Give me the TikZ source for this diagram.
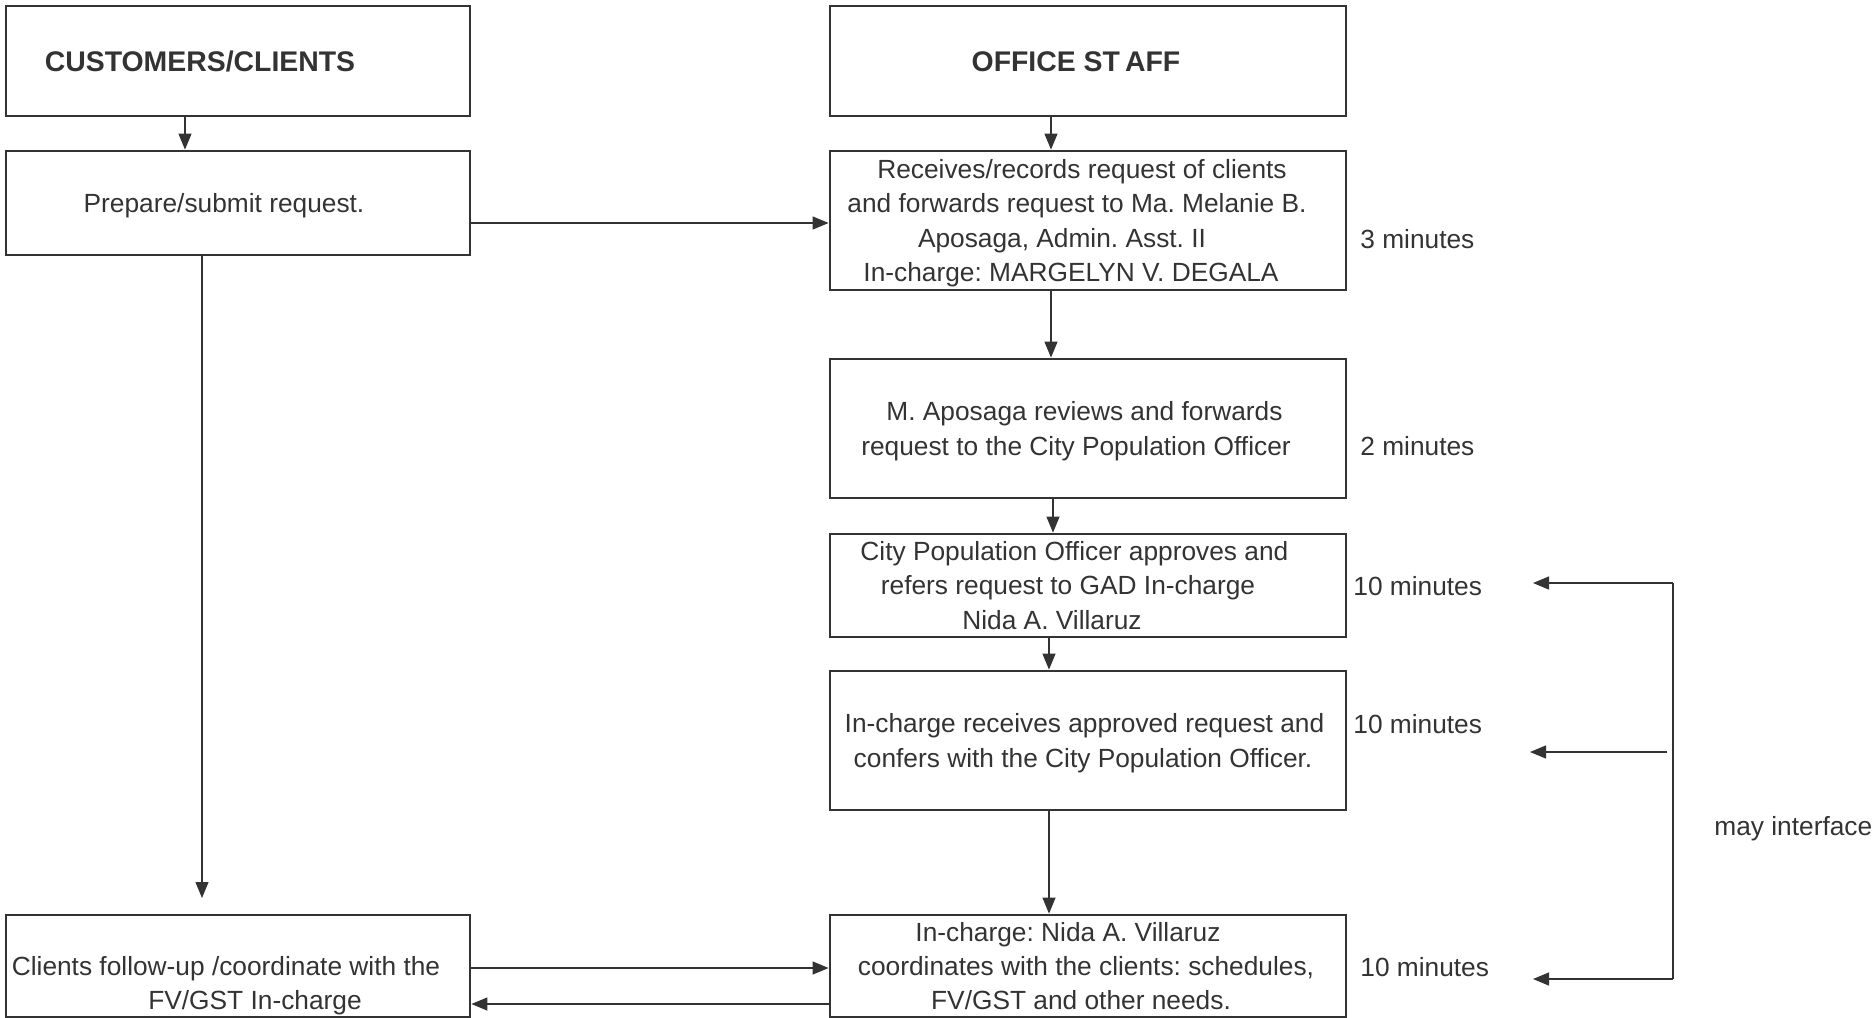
\documentclass[tikz,border=0pt]{standalone}
\usepackage{fontspec}
\setmainfont{Liberation Sans}
\usetikzlibrary{arrows.meta}
\definecolor{ink}{RGB}{51,51,51}
\newcommand\stT{\rule{0pt}{12.5pt}}
\newcommand\stB{\rule[-3.1pt]{0pt}{3.1pt}}
\newcommand\stHT{\rule{0pt}{13pt}}
\newcommand\stHB{\rule[-3pt]{0pt}{3pt}}
\newcommand\shl[1]{\rule{#1}{0pt}}
\frenchspacing
\begin{document}
\begin{tikzpicture}[x=0.5pt,y=-0.5pt,
  box/.style={draw=ink,line width=1.4pt,inner sep=0pt,align=center,text=ink,font=\fontsize{13.15}{17.15}\selectfont},
  lbox/.style={box,minimum width=232pt},
  rbox/.style={box,minimum width=258pt},
  head/.style={font=\fontsize{14.2}{17}\selectfont\bfseries},
  conn/.style={draw=ink,line width=0.6pt},
  arr/.style={conn,-{Triangle[length=8pt,width=6.5pt]}},
  lbl/.style={anchor=west,inner sep=0pt,text=ink,font=\fontsize{13.15}{17.15}\selectfont}]
\useasboundingbox (0,0) rectangle (1876,1018);

% boxes
\node[lbox,head,minimum height=55pt] (cust) at (238,61) {\stHT CUSTOMERS/CLIENTS\shl{38pt}\stHB};
\node[rbox,head,minimum height=55pt] (office) at (1088,61) {\stHT OFFICE ST\kern0.18em AFF\shl{12pt}\stHB};
\node[lbox,minimum height=52pt] (prep) at (238,203) {\stT Prepare/submit request.\shl{14pt}\stB};
\node[rbox,minimum height=69.5pt] (rec) at (1088,220.5) {\stT Receives/records request of clients\shl{6pt}\\
  and forwards request to Ma. Melanie B.\shl{11pt}\\
  Aposaga, Admin. Asst. II\shl{26pt}\\
  In-charge: MARGELYN V. DEGALA\shl{17pt}\stB};
\node[rbox,minimum height=69.5pt] (mapos) at (1088,428.5) {\stT M. Aposaga reviews and forwards\shl{3.5pt}\\
  request to the City Population Officer\shl{12pt}\stB};
\node[rbox,minimum height=51.5pt] (cpo) at (1088,585.5) {\stT City Population Officer approves and\shl{13.6pt}\\
  refers request to GAD In-charge\shl{20pt}\\
  Nida A. Villaruz\shl{36pt}\stB};
\node[rbox,minimum height=69.5pt] (incr) at (1088,740.5) {\stT In-charge receives approved request and\shl{3.5pt}\\
  confers with the City Population Officer.\shl{5pt}\stB};
\node[rbox,minimum height=51pt] (nida) at (1088,966) {\stT In-charge: Nida A. Villaruz\shl{20pt}\\
  coordinates with the clients: schedules,\shl{2pt}\\
  FV/GST and other needs.\shl{7pt}\stB};
\node[lbox,minimum height=51pt] (clients) at (238,966) {\stT\\
  Clients follow-up /coordinate with the\shl{12pt}\\
  \shl{17pt}FV/GST In-charge\stB};

% time labels
\node[lbl] (t1) at (1360,239) {3 minutes};
\node[lbl] (t2) at (1360,446) {2 minutes};
\node[lbl] (t3) at (1353,586) {10 minutes};
\node[lbl] (t4) at (1353,724) {10 minutes};
\node[lbl] (t5) at (1360,967) {10 minutes};
\node[lbl] (mi) at (1714,829) {may interface};

% helper coordinates
\coordinate (xa) at (185,0);
\coordinate (xb) at (1051,0);
\coordinate (xc) at (1053,0);
\coordinate (xd) at (1049,0);
\coordinate (xe) at (202,0);
\coordinate (ya) at (0,223);
\coordinate (yb) at (0,968);
\coordinate (yc) at (0,1004);
\coordinate (pend) at (202,898);
\coordinate (vtop) at (1673,583);
\coordinate (vbot) at (1673,979);
\coordinate (vmid) at (1667,752);
\coordinate (tip1) at (1533,583);
\coordinate (tip2) at (1530,752);
\coordinate (tip3) at (1533,979);

% connectors
\draw[arr] (cust.south -| xa) -- (prep.north -| xa);
\draw[arr] (office.south -| xb) -- (rec.north -| xb);
\draw[arr] (rec.south -| xb) -- (mapos.north -| xb);
\draw[arr] (mapos.south -| xc) -- (cpo.north -| xc);
\draw[arr] (cpo.south -| xd) -- (incr.north -| xd);
\draw[arr] (incr.south -| xd) -- (nida.north -| xd);
\draw[arr] (prep.east |- ya) -- (rec.west |- ya);
\draw[arr] (prep.south -| xe) -- (pend);
\draw[arr] (clients.east |- yb) -- (nida.west |- yb);
\draw[arr] (nida.west |- yc) -- (clients.east |- yc);

% bracket
\draw[conn] (vtop) -- (vbot);
\draw[arr] (vtop) -- (tip1);
\draw[arr] (vmid) -- (tip2);
\draw[arr] (vbot) -- (tip3);
\end{tikzpicture}
\end{document}
